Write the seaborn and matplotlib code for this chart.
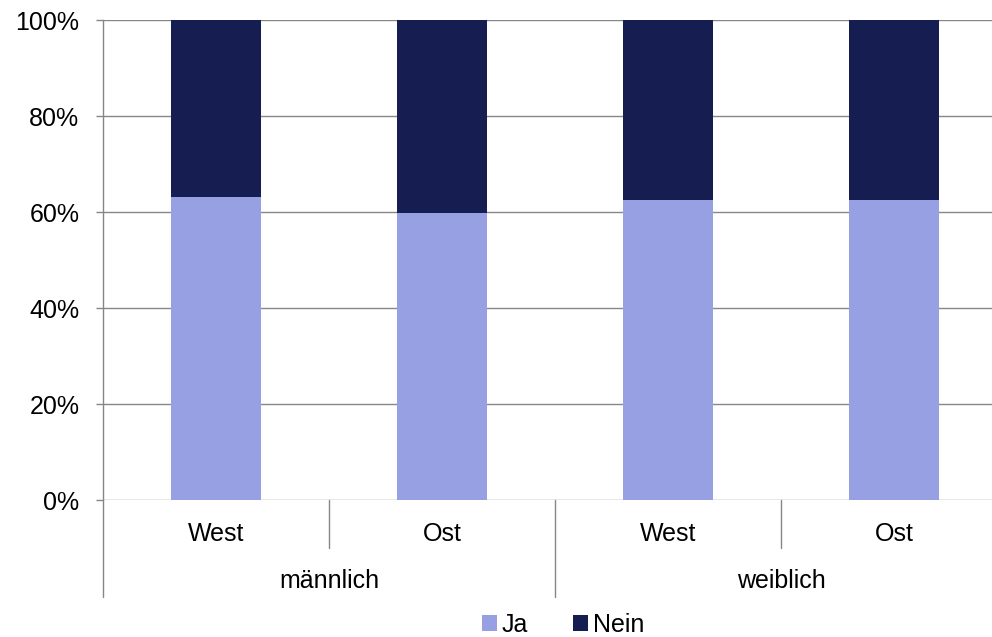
import matplotlib
matplotlib.use("Agg")
import matplotlib.pyplot as plt
import matplotlib.transforms as mtransforms
from matplotlib.patches import Patch
import seaborn as sns
import pandas as pd

sns.set_theme(style="white")
plt.rcParams["font.family"] = ["Liberation Sans", "DejaVu Sans"]
plt.rcParams["text.color"] = "black"

# Data
regions = ["West", "Ost", "West", "Ost"]
groups = ["männlich", "weiblich"]
ja = [63.1, 59.8, 62.6, 62.5]
nein = [36.9, 40.2, 37.4, 37.5]
series = ["Ja", "Nein"]
colors = {"Ja": "#96A0E2", "Nein": "#161D50"}
yticks = [0, 20, 40, 60, 80, 100]

keys = [f"{g}-{r}" for g in groups for r in ("West", "Ost")]
df = pd.DataFrame({"key": keys, "Ja": ja, "Nein": nein})
df["Total"] = df["Ja"] + df["Nein"]

FS = 18
W, H = 992, 637
fig = plt.figure(figsize=(W / 100, H / 100), dpi=100)
ax = fig.add_axes([103 / W, 1 - 500 / H, 904 / W, 480 / H])

grid_col = "#868686"
for v in yticks:
    ax.axhline(v, color=grid_col, lw=1.0, zorder=0)

# Stacked bars: full height in "Nein" colour, "Ja" portion drawn on top
sns.barplot(data=df, x="key", y="Total", color=colors["Nein"], width=0.4,
            saturation=1, ax=ax, zorder=2, linewidth=0)
sns.barplot(data=df, x="key", y="Ja", color=colors["Ja"], width=0.4,
            saturation=1, ax=ax, zorder=3, linewidth=0)

ax.set_xlim(-0.5, 3.5)
ax.set_ylim(0, 100)
ax.set_xlabel("")
ax.set_ylabel("")
ax.set_yticks(yticks)
ax.set_yticklabels([f"{v}%" for v in yticks], fontsize=FS, color="black")
ax.tick_params(axis="y", length=5, width=1, color=grid_col, direction="out", pad=12, left=True)
ax.set_xticks([])
for s in ["top", "right", "bottom"]:
    ax.spines[s].set_visible(False)
ax.spines["left"].set_color(grid_col)
ax.spines["left"].set_linewidth(1.0)

# Two-level category axis
trans = mtransforms.blended_transform_factory(ax.transData, ax.transAxes)
for i, r in enumerate(regions):
    ax.text(i, -41 / 480, r, transform=trans, ha="center", va="baseline",
            fontsize=FS, color="black")
for j, g in enumerate(groups):
    ax.text(2 * j + 0.5, -88 / 480, g, transform=trans, ha="center", va="baseline",
            fontsize=FS, color="black")
for x in [0.5, 2.5]:
    ax.plot([x, x], [0, -48 / 480], transform=trans, color=grid_col, lw=1.0, clip_on=False)
for x in [-0.5, 1.5, 3.5]:
    ax.plot([x, x], [0, -97 / 480], transform=trans, color=grid_col, lw=1.0, clip_on=False)

handles = [Patch(facecolor=colors[s], edgecolor="none", label=s) for s in series]
fig.legend(handles=handles, loc="center", bbox_to_anchor=(563 / W, 1 - 625 / H),
           ncol=2, frameon=False, fontsize=FS, labelcolor="black",
           handlelength=0.6, handleheight=0.6,
           handletextpad=0.2, columnspacing=1.8, borderpad=0, borderaxespad=0)

fig.savefig("out.png", dpi=100)
